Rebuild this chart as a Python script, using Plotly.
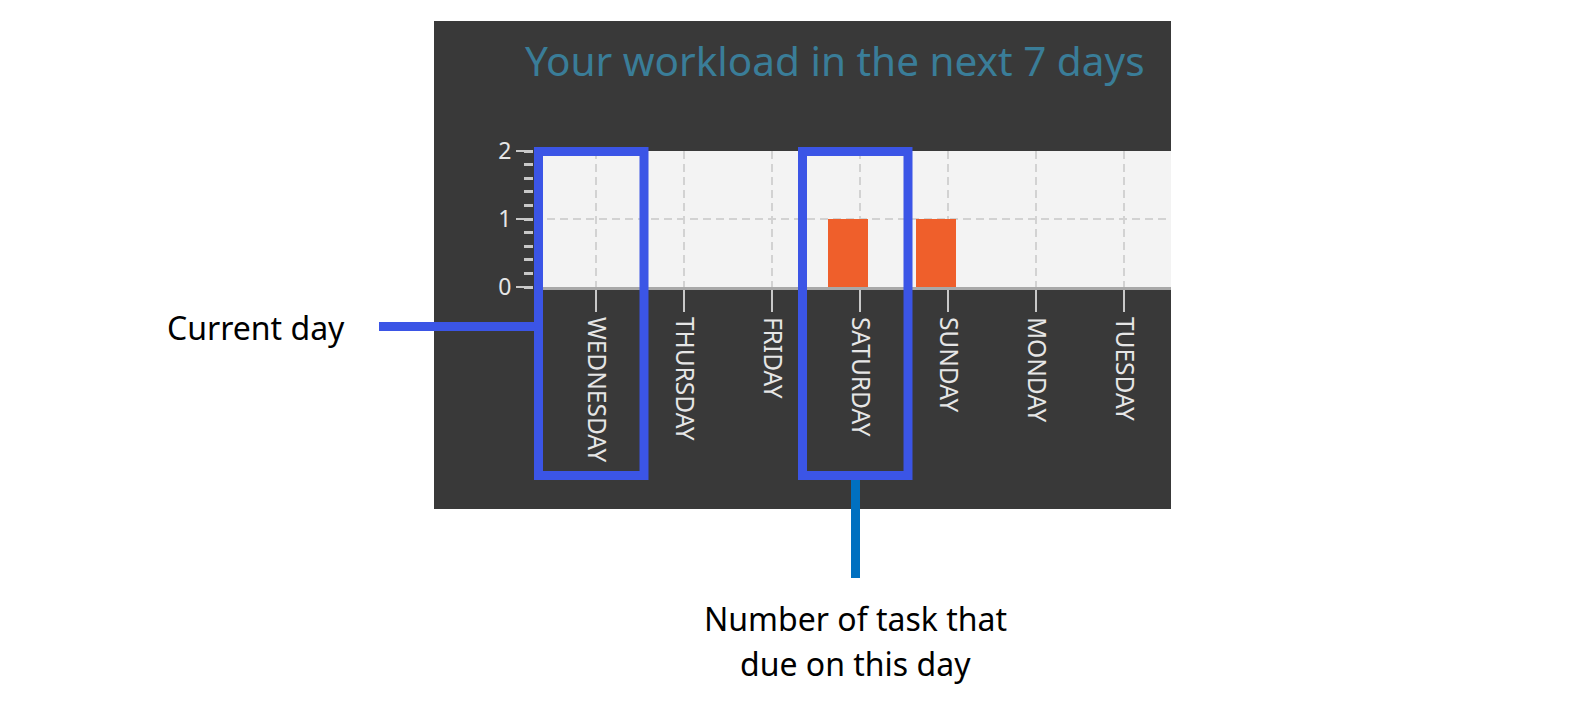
import plotly.graph_objects as go

# ---- data ----
days = ["WEDNESDAY", "THURSDAY", "FRIDAY", "SATURDAY", "SUNDAY", "MONDAY", "TUESDAY"]
tasks_due = [0, 0, 0, 1, 1, 0, 0]
y_tick_values = [0, 1, 2]
title_text = "Your workload in the next 7 days"
note_current = "Current day"
note_tasks_1 = "Number of task that"
note_tasks_2 = "due on this day"

# ---- geometry (pixels) ----
W, H = 1590, 726
PL, PR, PT, PB = 534, 1171, 151, 287   # plot area
pw, ph = PR - PL, PB - PT

def xp(px):
    return (px - PL) / pw

def yp(py):
    return (PB - py) / ph

idx = list(range(len(days)))

fig = go.Figure()
fig.add_trace(go.Bar(
    x=idx, y=tasks_due,
    width=0.455, offset=-0.36,
    marker=dict(color="#ef5f2b", line=dict(width=0)),
    hoverinfo="skip",
))

BLUE = "#3b55e6"
shapes = [
    dict(type="rect", xref="paper", yref="paper", layer="below",
         x0=xp(434), x1=xp(1171), y0=yp(509), y1=yp(21),
         fillcolor="#393939", line=dict(width=0)),
    dict(type="rect", xref="paper", yref="paper", layer="below",
         x0=0, x1=1, y0=0, y1=1,
         fillcolor="#f3f3f3", line=dict(width=0)),
    dict(type="rect", xref="paper", yref="paper", layer="above",
         x0=xp(538.5), x1=xp(644), y0=yp(475.5), y1=yp(151.5),
         line=dict(color=BLUE, width=9)),
    dict(type="rect", xref="paper", yref="paper", layer="above",
         x0=xp(802.5), x1=xp(908), y0=yp(475.5), y1=yp(151.5),
         line=dict(color=BLUE, width=9)),
    dict(type="line", xref="paper", yref="paper", layer="above",
         x0=xp(379), x1=xp(536), y0=yp(326.5), y1=yp(326.5),
         line=dict(color=BLUE, width=9)),
    dict(type="line", xref="paper", yref="paper", layer="above",
         x0=xp(855.5), x1=xp(855.5), y0=yp(480), y1=yp(578),
         line=dict(color="#0070c0", width=9)),
]

annotations = [
    dict(text=title_text, xref="paper", yref="paper", showarrow=False,
         x=xp(523), y=yp(61), xanchor="left", yanchor="middle",
         font=dict(family="Noto Sans", size=40.5, color="#3a7d98")),
    dict(text=note_current, xref="paper", yref="paper", showarrow=False,
         x=xp(165), y=yp(327), xanchor="left", yanchor="middle",
         font=dict(family="Noto Sans", size=32, color="#000000")),
    dict(text=note_tasks_1, xref="paper", yref="paper", showarrow=False,
         x=xp(855.5), y=yp(618), xanchor="center", yanchor="middle",
         font=dict(family="Noto Sans", size=32, color="#000000")),
    dict(text=note_tasks_2, xref="paper", yref="paper", showarrow=False,
         x=xp(855.5), y=yp(663), xanchor="center", yanchor="middle",
         font=dict(family="Noto Sans", size=32, color="#000000")),
]

GRID = "#d2d2d2"
fig.update_layout(
    width=W, height=H,
    margin=dict(l=PL, r=W - PR, t=PT, b=H - PB, pad=0),
    paper_bgcolor="#ffffff",
    plot_bgcolor="rgba(0,0,0,0)",
    showlegend=False,
    shapes=shapes,
    annotations=annotations,
    bargap=0,
    xaxis=dict(
        range=[-0.705, 6.534], tickvals=idx, ticktext=days,
        tickangle=90, ticks="outside", ticklen=22, tickwidth=2, tickcolor="#c8c8c8",
        tickfont=dict(family="Noto Sans", size=24.5, color="#e6e6e6"),
        showgrid=True, gridcolor=GRID, gridwidth=2, griddash="8px,5px",
        showline=True, linecolor="#a8a8a8", linewidth=3,
        zeroline=False, fixedrange=True,
    ),
    yaxis=dict(
        range=[0, 2], tickvals=y_tick_values,
        ticks="outside", ticklen=17, tickwidth=2, tickcolor="#c8c8c8",
        tickfont=dict(family="Noto Sans", size=23, color="#e6e6e6"),
        showgrid=True, gridcolor=GRID, gridwidth=2, griddash="8px,5px",
        showline=False, zeroline=False, fixedrange=True,
        minor=dict(dtick=0.2, ticks="outside", ticklen=9, tickwidth=3,
                   tickcolor="#c8c8c8", showgrid=False),
    ),
)

fig.write_html("out.html")
